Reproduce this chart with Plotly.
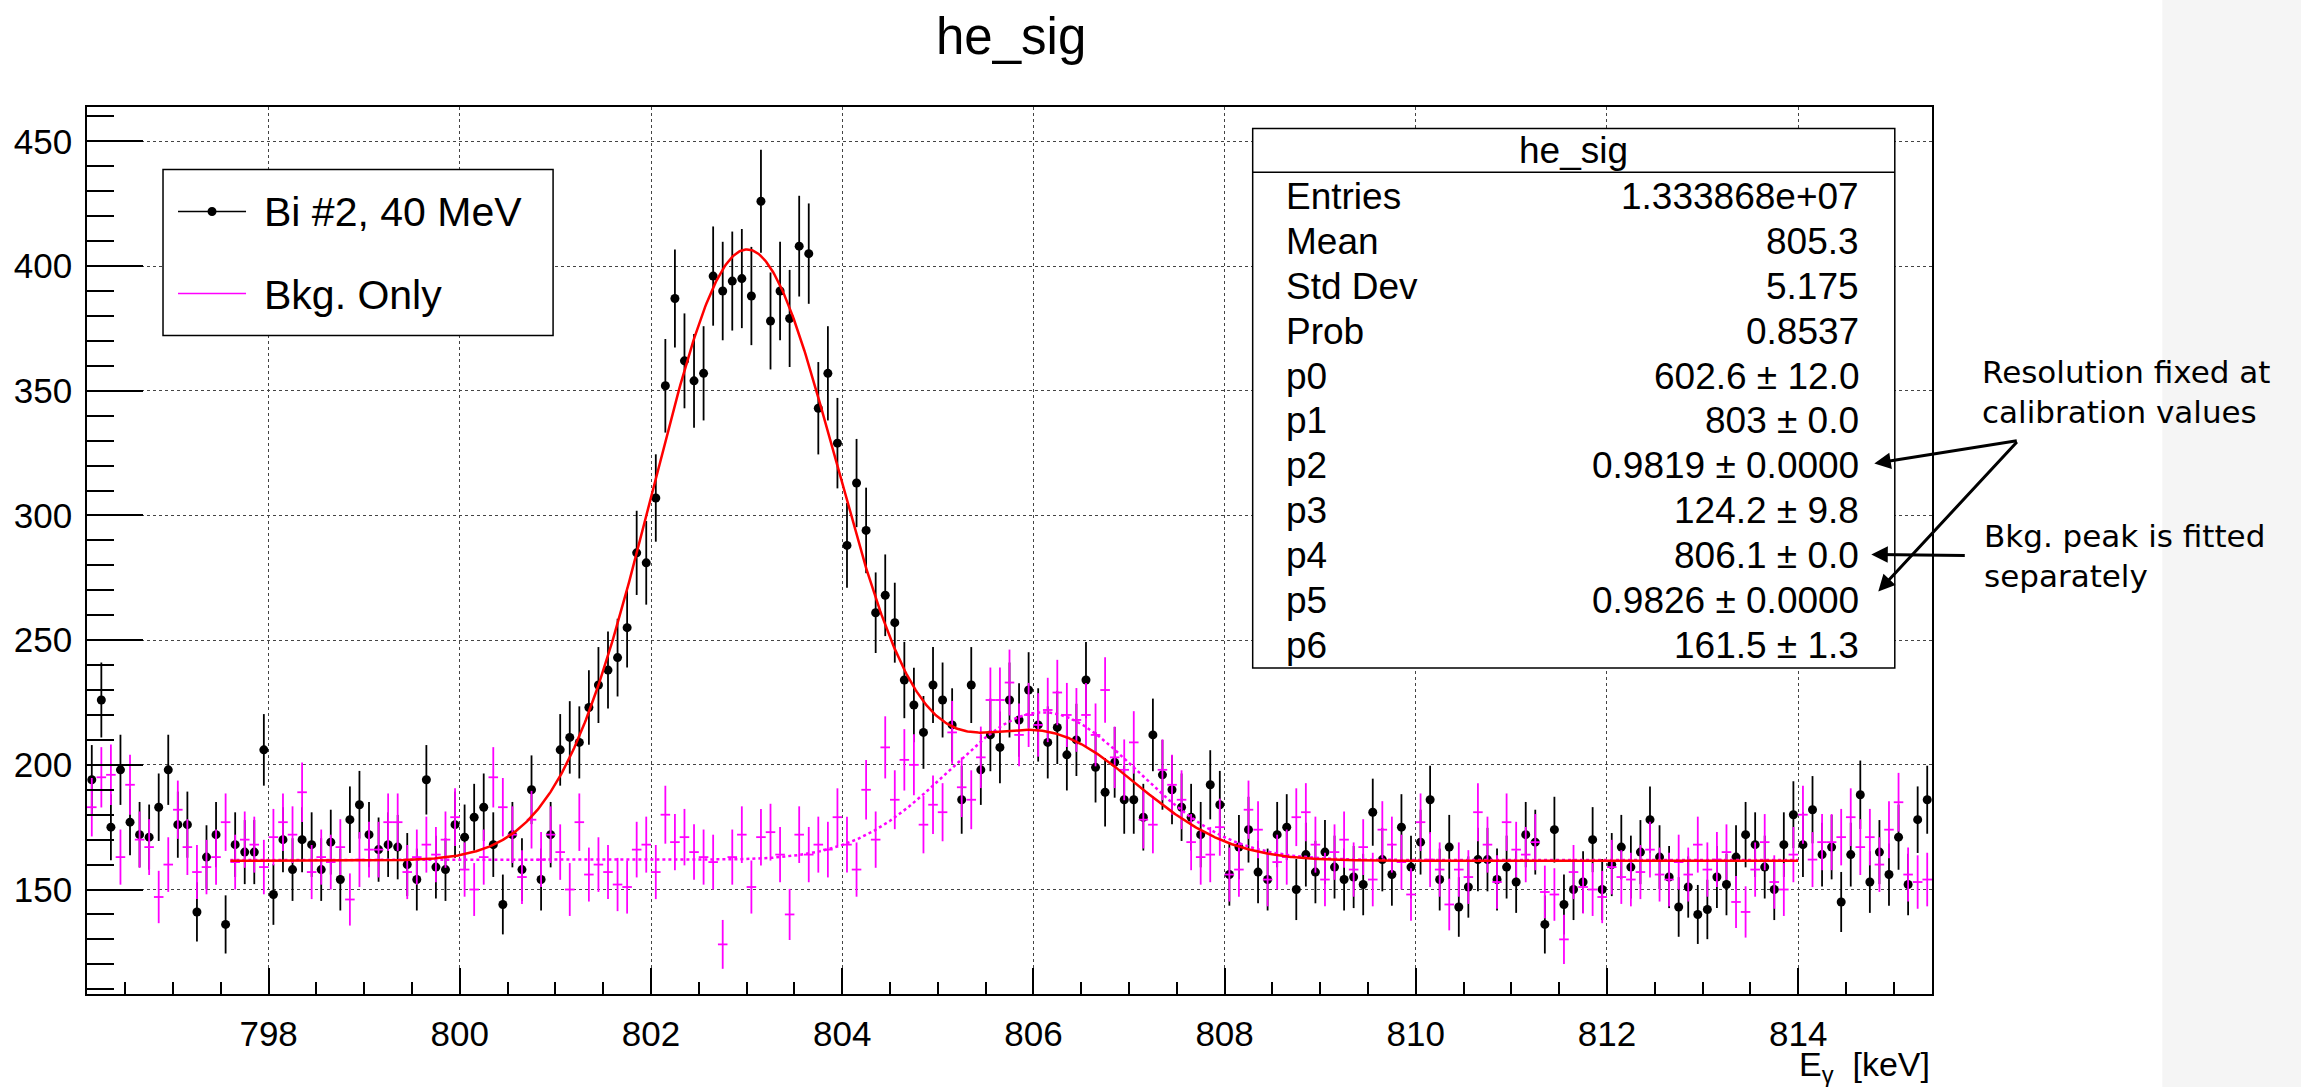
import numpy as np
import plotly.graph_objects as go

# ---------------------------------------------------------------- data
# histogram binning (keV)
BIN_LO, BIN_W, NBINS = 796.1, 0.1, 193
X_RANGE = [796.1, 815.4]
Y_RANGE = [108.1, 463.8]

# counts per bin, signal run (Bi #2, 40 MeV)
sig_counts = [
    194, 226, 175, 198, 177, 172, 171, 183, 198, 176,
    176, 141, 163, 172, 136, 168, 165, 165, 206, 148,
    170, 158, 170, 168, 158, 169, 154, 178, 184, 172,
    166, 168, 167, 160, 154, 194, 159, 158, 176, 171,
    179, 183, 168, 144, 172, 158, 190, 154, 172, 206,
    211, 209, 223, 232, 238, 243, 255, 285, 281, 307,
    352, 387, 362, 354, 357, 396, 390, 394, 395, 388,
    426, 378, 390, 379, 408, 405, 343, 357, 329, 288,
    313, 294, 261, 268, 257, 234, 224, 213, 232, 226,
    216, 186, 232, 198, 212, 207, 226, 218, 230, 216,
    209, 215, 204, 210, 234, 199, 189, 201, 186, 186,
    179, 212, 196, 190, 183, 179, 172, 192, 184, 156,
    167, 174, 157, 154, 172, 175, 150, 164, 157, 165,
    159, 154, 155, 152, 181, 162, 156, 175, 159, 169,
    186, 154, 167, 143, 151, 162, 162, 154, 159, 153,
    172, 169, 136, 174, 144, 150, 153, 170, 150, 160,
    167, 159, 165, 178, 163, 155, 143, 151, 140, 142,
    155, 152, 163, 172, 168, 159, 150, 168, 180, 168,
    182, 164, 167, 145, 164, 188, 153, 165, 156, 171,
    152, 178, 186,
]

# counts per bin, background-only run (scaled)
bkg_counts = [
    183, 195, 196, 163, 192, 170, 167, 147, 160, 182,
    167, 157, 159, 163, 177, 161, 170, 168, 159, 171,
    177, 172, 189, 157, 163, 161, 167, 146, 162, 166,
    166, 177, 177, 157, 163, 168, 164, 170, 179, 158,
    150, 163, 195, 183, 172, 155, 178, 162, 172, 165,
    150, 177, 156, 160, 157, 152, 151, 166, 168, 157,
    180, 169, 171, 165, 163, 161, 128, 163, 172, 151,
    171, 173, 164, 140, 172, 164, 168, 166, 179, 168,
    158, 190, 170, 207, 186, 202, 200, 176, 184, 181,
    213, 191, 186, 203, 226, 226, 233, 212, 220, 216,
    222, 229, 220, 218, 220, 212, 230, 203, 198, 209,
    178, 176, 198, 192, 186, 169, 163, 164, 175, 156,
    158, 182, 174, 154, 161, 163, 179, 181, 168, 154,
    165, 170, 158, 167, 154, 174, 168, 161, 148, 177,
    162, 158, 144, 158, 155, 181, 168, 153, 177, 166,
    164, 169, 149, 148, 130, 157, 151, 150, 147, 159,
    155, 154, 157, 166, 156, 154, 161, 156, 168, 158,
    162, 165, 145, 141, 158, 169, 153, 150, 164, 180,
    162, 169, 169, 171, 179, 167, 171, 160, 174, 185,
    156, 153, 154,
]
BKG_SCALE = 0.75  # weight applied to the background histogram

# signal fit: two gaussians (area, mean, sigma) + constant
fit_params = [602.6, 803.0, 0.9819, 124.2, 806.1, 0.9826, 161.5]
fit_range = [797.6, 814.0]
# separate fit of the background-only spectrum
bkg_fit_const, bkg_fit_height = 161.8, 59.3

stat_names = ["Entries", "Mean", "Std Dev", "Prob",
              "p0", "p1", "p2", "p3", "p4", "p5", "p6"]
stat_values = ["1.333868e+07", "805.3", "5.175", "0.8537",
               "602.6 \u00b1 12.0", "803 \u00b1 0.0", "0.9819 \u00b1 0.0000",
               "124.2 \u00b1 9.8", "806.1 \u00b1 0.0", "0.9826 \u00b1 0.0000",
               "161.5 \u00b1 1.3"]

# ---------------------------------------------------------------- geometry
W, H = 2301, 1087
L, R, T, B = 87, 1931.7, 106.5, 993.6   # frame of the plotting area (px)


def PX(px):
    return (px - L) / (R - L)


def PY(py):
    return (B - py) / (B - T)


FONT = "Liberation Sans, Arial, Helvetica, sans-serif"
NOTE_FONT = "DejaVu Sans, sans-serif"

# ---------------------------------------------------------------- traces
centers = BIN_LO + BIN_W * (np.arange(NBINS) + 0.5)
sig = np.array(sig_counts, dtype=float)
bkg = np.array(bkg_counts, dtype=float)


def gaus(x, area, mean, sigma):
    return area / (np.sqrt(2 * np.pi) * sigma) * np.exp(-0.5 * ((x - mean) / sigma) ** 2)


xf = np.linspace(fit_range[0], fit_range[1], 1200)
p = fit_params
red_fit = gaus(xf, p[0], p[1], p[2]) + gaus(xf, p[3], p[4], p[5]) + p[6]
bkg_curve = bkg_fit_const + bkg_fit_height * np.exp(-0.5 * ((xf - p[4]) / p[5]) ** 2)

fig = go.Figure()

fig.add_trace(go.Scatter(
    x=centers, y=sig, mode="markers",
    marker=dict(color="black", size=9),
    error_y=dict(type="data", array=np.sqrt(sig), width=0, thickness=1.8, color="black"),
    hoverinfo="skip"))

fig.add_trace(go.Scatter(
    x=centers, y=bkg, mode="markers",
    marker=dict(color="rgba(0,0,0,0)", size=1),
    error_y=dict(type="data", array=np.sqrt(BKG_SCALE * bkg), width=0, thickness=1.8,
                 color="#ff00ff"),
    error_x=dict(type="data", array=np.full(NBINS, BIN_W / 2), width=0, thickness=1.8,
                 color="#ff00ff"),
    hoverinfo="skip"))

fig.add_trace(go.Scatter(x=xf, y=bkg_curve, mode="lines",
                         line=dict(color="#ff00ff", width=2.5, dash="dot"), hoverinfo="skip"))
fig.add_trace(go.Scatter(x=xf, y=red_fit, mode="lines",
                         line=dict(color="#ff0000", width=2.5), hoverinfo="skip"))

# ---------------------------------------------------------------- axes
axis_common = dict(
    showline=True, linecolor="black", linewidth=1.5, mirror=True,
    ticks="inside", tickcolor="black", tickwidth=1.5,
    showgrid=True, gridcolor="#444", griddash="dot", gridwidth=1,
    zeroline=False,
    tickfont=dict(family=FONT, size=35, color="black"),
)

fig.update_xaxes(range=X_RANGE, tick0=0, dtick=2, ticklen=26,
                 minor=dict(ticks="inside", ticklen=12, tickwidth=1.5, tickcolor="black",
                            dtick=0.5, tick0=0, showgrid=False),
                 ticklabelstandoff=8, **axis_common)
fig.update_yaxes(range=Y_RANGE, tick0=0, dtick=50, ticklen=56,
                 minor=dict(ticks="inside", ticklen=27, tickwidth=1.5, tickcolor="black",
                            dtick=10, tick0=0, showgrid=False),
                 ticklabelstandoff=6, **axis_common)

shapes = []
annotations = []

# light panel on the right edge of the page
shapes.append(dict(type="rect", xref="paper", yref="paper", layer="below",
                   x0=PX(2162), x1=PX(W + 5), y0=PY(H + 5), y1=PY(-5),
                   fillcolor="#f5f5f5", line=dict(width=0)))

# title
annotations.append(dict(text="he_sig", xref="paper", yref="paper", x=PX(1011), y=PY(36),
                        xanchor="center", yanchor="middle", showarrow=False,
                        font=dict(family=FONT, size=51, color="black")))

# x-axis title
annotations.append(dict(text="E<sub>\u03b3</sub>  [keV]", xref="paper", yref="paper",
                        x=PX(1932), y=PY(1066), xanchor="right", yanchor="middle",
                        showarrow=False, font=dict(family=FONT, size=34, color="black")))

# legend box
shapes.append(dict(type="rect", xref="paper", yref="paper", x0=PX(163), x1=PX(553),
                   y0=PY(335), y1=PY(169), fillcolor="white",
                   line=dict(color="black", width=1.5)))
shapes.append(dict(type="line", xref="paper", yref="paper", x0=PX(178), x1=PX(246),
                   y0=PY(211), y1=PY(211), line=dict(color="black", width=1.5)))
shapes.append(dict(type="circle", xref="paper", yref="paper", x0=PX(207.5), x1=PX(216.5),
                   y0=PY(215.5), y1=PY(206.5), fillcolor="black", line=dict(width=0)))
shapes.append(dict(type="line", xref="paper", yref="paper", x0=PX(178), x1=PX(246),
                   y0=PY(293), y1=PY(293), line=dict(color="#ff00ff", width=1.5)))
annotations.append(dict(text="Bi #2, 40 MeV", xref="paper", yref="paper", x=PX(262), y=PY(212),
                        xanchor="left", yanchor="middle", showarrow=False,
                        font=dict(family=FONT, size=41, color="black")))
annotations.append(dict(text="Bkg. Only", xref="paper", yref="paper", x=PX(262), y=PY(295),
                        xanchor="left", yanchor="middle", showarrow=False,
                        font=dict(family=FONT, size=41, color="black")))

# statistics box
SB_L, SB_R, SB_T, SB_B, SB_H = 1252.5, 1894.5, 128, 667.5, 171.8
shapes.append(dict(type="rect", xref="paper", yref="paper", x0=PX(SB_L), x1=PX(SB_R),
                   y0=PY(SB_B), y1=PY(SB_T), fillcolor="white",
                   line=dict(color="black", width=1.5)))
shapes.append(dict(type="line", xref="paper", yref="paper", x0=PX(SB_L), x1=PX(SB_R),
                   y0=PY(SB_H), y1=PY(SB_H), line=dict(color="black", width=1.5)))
annotations.append(dict(text="he_sig", xref="paper", yref="paper", x=PX(1573), y=PY(150),
                        xanchor="center", yanchor="middle", showarrow=False,
                        font=dict(family=FONT, size=37, color="black")))
for k, (name, val) in enumerate(zip(stat_names, stat_values)):
    yy = 196 + 44.9 * k
    annotations.append(dict(text=name, xref="paper", yref="paper", x=PX(1284), y=PY(yy),
                            xanchor="left", yanchor="middle", showarrow=False,
                            font=dict(family=FONT, size=37, color="black")))
    annotations.append(dict(text=val, xref="paper", yref="paper", x=PX(1861), y=PY(yy),
                            xanchor="right", yanchor="middle", showarrow=False,
                            font=dict(family=FONT, size=37, color="black")))

# notes with arrows
annotations.append(dict(text="Resolution fixed at<br>calibration values", xref="paper",
                        yref="paper", x=PX(1980), y=PY(392), xanchor="left", yanchor="middle",
                        align="left", showarrow=False,
                        font=dict(family=NOTE_FONT, size=31, color="black")))
annotations.append(dict(text="Bkg. peak is fitted<br>separately", xref="paper",
                        yref="paper", x=PX(1982), y=PY(556), xanchor="left", yanchor="middle",
                        align="left", showarrow=False,
                        font=dict(family=NOTE_FONT, size=31, color="black")))
for (tx, ty, sx, sy) in [(1874, 463, 2018, 440), (1878, 591, 2018, 440), (1871, 554, 1966, 555)]:
    annotations.append(dict(text="", xref="paper", yref="paper", x=PX(tx), y=PY(ty),
                            ax=sx - tx, ay=sy - ty, showarrow=True, arrowhead=2,
                            arrowsize=1.1, arrowwidth=3, arrowcolor="black"))

fig.update_layout(
    width=W, height=H,
    margin=dict(l=L, r=W - R, t=T, b=H - B, pad=0),
    paper_bgcolor="white", plot_bgcolor="white",
    showlegend=False,
    shapes=shapes, annotations=annotations,
)

fig.write_html("out.html")
